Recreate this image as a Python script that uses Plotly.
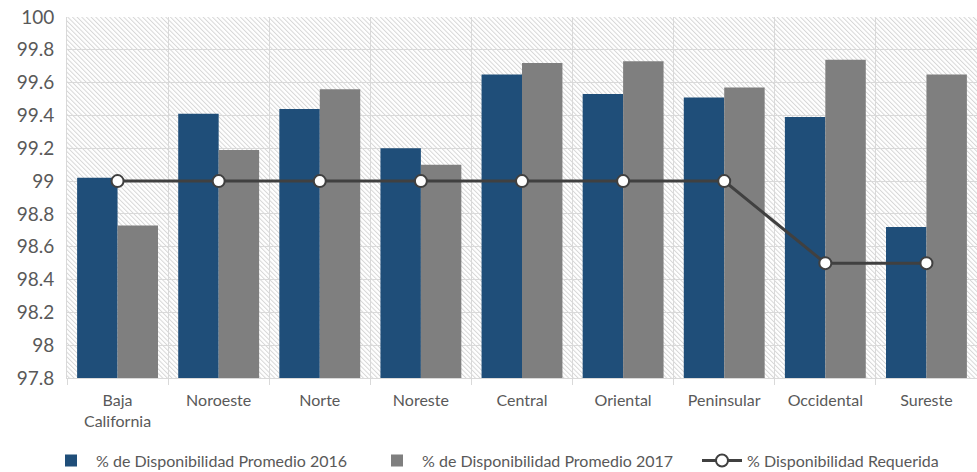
import base64
import plotly.graph_objects as go

categories = ["Baja<br>California", "Noroeste", "Norte", "Noreste", "Central",
              "Oriental", "Peninsular", "Occidental", "Sureste"]
prom_2016 = [99.02, 99.41, 99.44, 99.20, 99.65, 99.53, 99.51, 99.39, 98.72]
prom_2017 = [98.73, 99.19, 99.56, 99.10, 99.72, 99.73, 99.57, 99.74, 99.65]
requerida = [99.0, 99.0, 99.0, 99.0, 99.0, 99.0, 99.0, 98.5, 98.5]

names = ["% de Disponibilidad Promedio 2016",
         "% de Disponibilidad Promedio 2017",
         "% Disponibilidad Requerida"]

W, H = 977, 472
ML, MR, MT, MB = 67, 0, 17, 94
PW, PH = W - ML - MR, H - MT - MB

svg = (
    f'<svg xmlns="http://www.w3.org/2000/svg" width="{PW}" height="{PH}" viewBox="0 0 {PW} {PH}">'
    '<defs><pattern id="h" patternUnits="userSpaceOnUse" width="3.3" height="3.3" '
    'patternTransform="rotate(-45)"><line x1="0.5" y1="0" x2="0.5" y2="3.3" '
    'stroke="#D6D6D6" stroke-width="1"/></pattern></defs>'
    f'<rect width="{PW}" height="{PH}" fill="url(#h)"/></svg>'
)
src = "data:image/svg+xml;base64," + base64.b64encode(svg.encode()).decode()

font = "Lato, 'Open Sans', sans-serif"
txt = "#595959"

fig = go.Figure()
fig.add_trace(go.Bar(x=categories, y=prom_2016, name=names[0],
                     marker=dict(color="#1F4E79", line=dict(width=0)),
                     width=0.4, offset=-0.4, legend="legend"))
fig.add_trace(go.Bar(x=categories, y=prom_2017, name=names[1],
                     marker=dict(color="#7F7F7F", line=dict(width=0)),
                     width=0.4, offset=0.0, legend="legend2"))
fig.add_trace(go.Scatter(x=categories, y=requerida, name=names[2], mode="lines+markers",
                         line=dict(color="#404040", width=3),
                         marker=dict(size=12, color="white",
                                     line=dict(color="#404040", width=2)),
                         legend="legend3"))

def leg(xpx):
    return dict(orientation="h", xref="container", x=xpx / W, xanchor="left",
                yref="container", y=0.024, yanchor="middle",
                font=dict(size=16, color=txt), itemwidth=40,
                bgcolor="rgba(0,0,0,0)")

fig.update_layout(
    width=W, height=H,
    margin=dict(l=ML, r=MR, t=MT, b=MB, autoexpand=False),
    paper_bgcolor="white", plot_bgcolor="white",
    barmode="overlay",
    font=dict(family=font, color=txt, size=16),
    images=[dict(source=src, xref="paper", yref="paper", x=0, y=1,
                 sizex=1, sizey=1, sizing="stretch", layer="below",
                 xanchor="left", yanchor="top")],
    legend=leg(46), legend2=leg(372), legend3=leg(697),
    showlegend=True,
)
fig.update_xaxes(type="category", tickson="boundaries", showgrid=True,
                 gridcolor="#D9D9D9", gridwidth=1, ticks="outside", ticklen=6,
                 tickcolor="#D9D9D9", showline=True, linecolor="#D9D9D9",
                 tickfont=dict(size=16, color=txt), range=[-0.5, 8.5],
                 ticklabelstandoff=8)
fig.update_yaxes(range=[97.8, 100], dtick=0.2, tick0=97.8, showgrid=True,
                 gridcolor="#D9D9D9", gridwidth=1, zeroline=False,
                 showline=True, linecolor="#D9D9D9", mirror=False,
                 tickfont=dict(size=19, color=txt), ticks="", ticklabelstandoff=8)

fig.write_html("out.html")
